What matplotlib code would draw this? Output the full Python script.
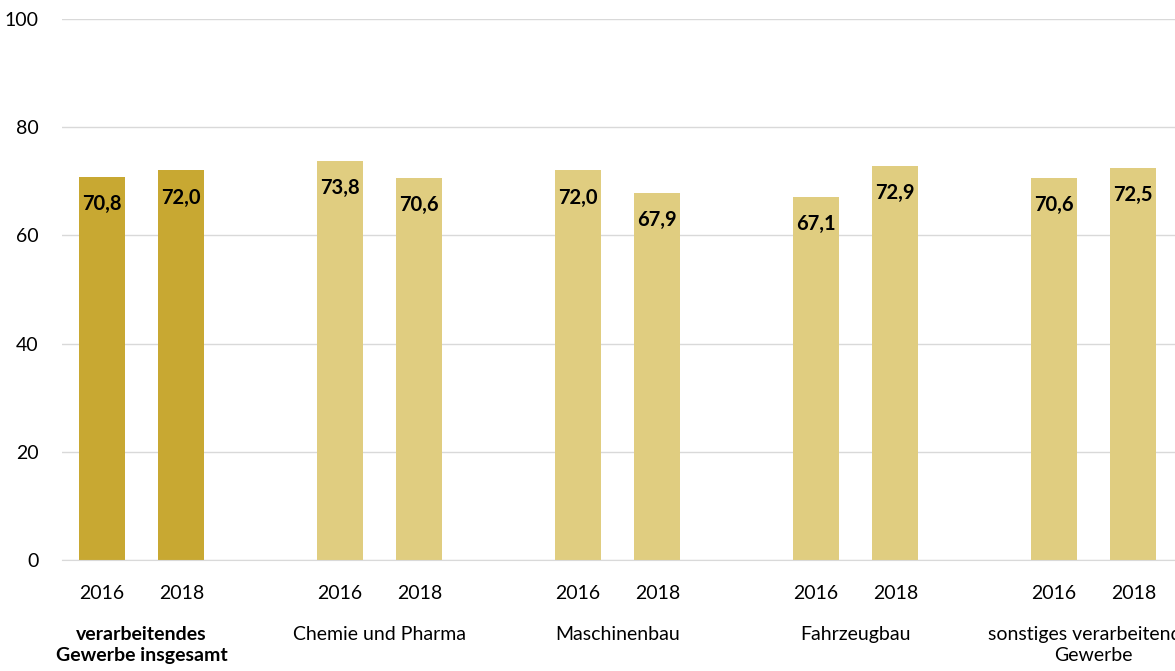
import matplotlib
matplotlib.use("Agg")
import matplotlib.pyplot as plt
import matplotlib.transforms as mtransforms

plt.rcParams['font.family'] = ['Lato', 'DejaVu Sans']

categories = ["verarbeitendes\nGewerbe insgesamt", "Chemie und Pharma",
              "Maschinenbau", "Fahrzeugbau", "sonstiges verarbeitendes\nGewerbe"]
years = ["2016", "2018"]
values_2016 = [70.8, 73.8, 72.0, 67.1, 70.6]
values_2018 = [72.0, 70.6, 67.9, 72.9, 72.5]

dark = "#C8A832"
light = "#E0CD80"
grid = "#D9D9D9"

fig = plt.figure(figsize=(11.75, 6.71), dpi=100)
ax = fig.add_axes([62.3 / 1175, 111 / 671, 1190 / 1175, 541 / 671])

xs, heights, colors, ticklabels = [], [], [], []
for i, cat in enumerate(categories):
    col = dark if i == 0 else light
    for j, v in enumerate([values_2016[i], values_2018[i]]):
        xs.append(i * 3 + j)
        heights.append(v)
        colors.append(col)
        ticklabels.append(years[j])

bars = ax.bar(xs, heights, width=0.58, color=colors, zorder=2)

for x, h in zip(xs, heights):
    ax.annotate(f"{h:.1f}".replace(".", ","), (x, h), xytext=(0, -27),
                textcoords="offset pixels", ha="center", va="center",
                fontsize=14.5, fontweight="bold", color="black")

ax.set_xlim(-0.5, 14.5)
ax.set_ylim(0, 100)
ax.set_yticks([0, 20, 40, 60, 80, 100])
ax.set_xticks(xs)
ax.set_xticklabels(ticklabels, fontsize=14)
ax.tick_params(axis="x", length=0, pad=18)
ax.tick_params(axis="y", length=0, pad=17, labelsize=14)
ax.yaxis.grid(True, color=grid, linewidth=1)
ax.set_axisbelow(True)
for s in ["left", "right", "top"]:
    ax.spines[s].set_visible(False)
ax.spines["bottom"].set_color(grid)

trans = mtransforms.blended_transform_factory(ax.transData, ax.transAxes)
for i, cat in enumerate(categories):
    ax.text(i * 3 + 0.5, -0.122, cat, transform=trans, ha="center", va="top",
            fontsize=14, fontweight="bold" if i == 0 else "normal",
            linespacing=1.3)

fig.savefig("out.png", dpi=100)
